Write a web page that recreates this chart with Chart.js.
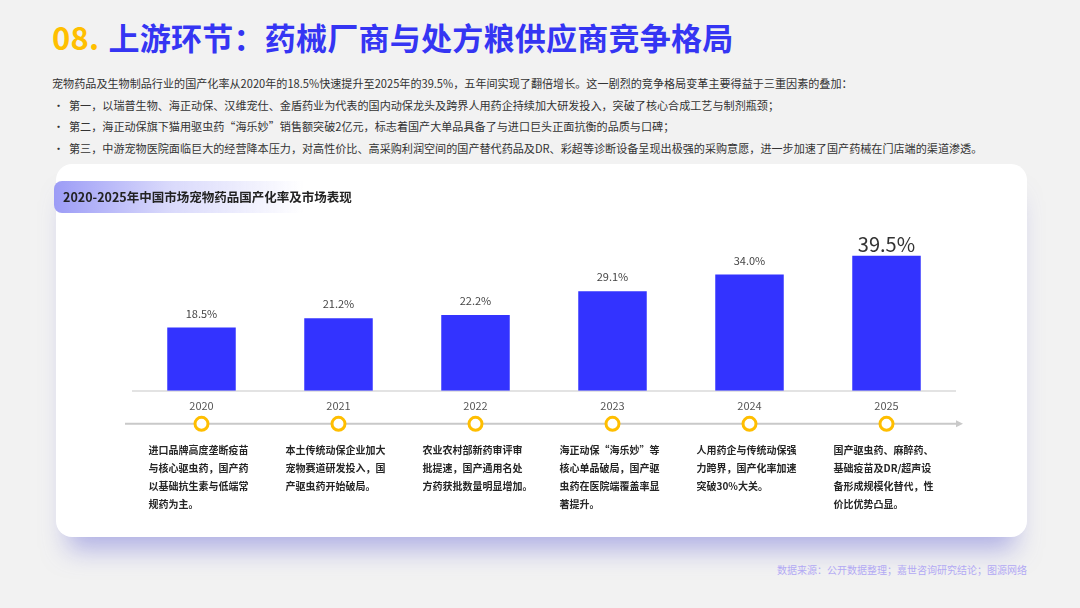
<!DOCTYPE html>
<html lang="zh-CN">
<head>
<meta charset="utf-8">
<script src="https://cdn.jsdelivr.net/npm/chart.js@4.4.1/dist/chart.umd.min.js"></script>
<style>
  html, body { margin: 0; padding: 0; }
  body {
    width: 1080px; height: 608px; position: relative; overflow: hidden;
    background: #f2f2f2;
    font-family: "Noto Sans CJK SC", "Noto Sans", sans-serif;
  }
  .title {
    position: absolute; left: 52px; top: 14px;
    font-size: 31px; font-weight: 700; color: #3535f3; white-space: nowrap;
    letter-spacing: 0.25px;
  }
  .title .num { color: #ffbf00; margin-right: 9px; }
  .intro {
    position: absolute; left: 52px; top: 73px; width: 1010px;
    font-size: 11.1px; color: #333; line-height: 21.5px;
  }
  .intro .b { position: relative; padding-left: 17px; }
  .intro .b::before { content: "•"; position: absolute; left: 1px; top: 0; }
  .card {
    position: absolute; left: 56px; top: 164px; width: 971px; height: 373px;
    background: #fff; border-radius: 16px;
    box-shadow: 0 24px 26px -12px rgba(110, 110, 215, 0.5);
  }
  .band {
    position: absolute; left: 54px; top: 181px; width: 250px; height: 32px;
    border-radius: 8px 0 0 8px;
    background: linear-gradient(90deg, #9c9cf6 0%, #d8d8fb 45%, rgba(255,255,255,0) 100%);
  }
  .band span {
    position: absolute; left: 9px; top: 0; line-height: 32px;
    font-size: 12.5px; font-weight: 700; color: #222; white-space: nowrap;
  }
  .chart-box { position: absolute; left: 56px; top: 164px; width: 971px; height: 373px; }
  .source {
    position: absolute; right: 53px; top: 562px;
    font-size: 10px; color: #b2a9f4; white-space: nowrap;
  }
</style>
</head>
<body>
<div class="title"><span class="num">08.</span>上游环节：药械厂商与处方粮供应商竞争格局</div>
<div class="intro">
  <div>宠物药品及生物制品行业的国产化率从2020年的18.5%快速提升至2025年的39.5%，五年间实现了翻倍增长。这一剧烈的竞争格局变革主要得益于三重因素的叠加：</div>
  <div class="b">第一，以瑞普生物、海正动保、汉维宠仕、金盾药业为代表的国内动保龙头及跨界人用药企持续加大研发投入，突破了核心合成工艺与制剂瓶颈；</div>
  <div class="b">第二，海正动保旗下猫用驱虫药“海乐妙”销售额突破2亿元，标志着国产大单品具备了与进口巨头正面抗衡的品质与口碑；</div>
  <div class="b">第三，中游宠物医院面临巨大的经营降本压力，对高性价比、高采购利润空间的国产替代药品及DR、彩超等诊断设备呈现出极强的采购意愿，进一步加速了国产药械在门店端的渠道渗透。</div>
</div>
<div class="card"></div>
<div class="chart-box"><canvas id="rateChart"></canvas></div>
<div class="band"><span>2020-2025年中国市场宠物药品国产化率及市场表现</span></div>
<div class="source">数据来源：公开数据整理；嘉世咨询研究结论；图源网络</div>

<script>
const years = ["2020", "2021", "2022", "2023", "2024", "2025"];
const rates = [18.5, 21.2, 22.2, 29.1, 34.0, 39.5];
const notes = [
  ["进口品牌高度垄断疫苗", "与核心驱虫药，国产药", "以基础抗生素与低端常", "规药为主。"],
  ["本土传统动保企业加大", "宠物赛道研发投入，国", "产驱虫药开始破局。"],
  ["农业农村部新药审评审", "批提速，国产通用名处", "方药获批数量明显增加。"],
  ["海正动保“海乐妙”等", "核心单品破局，国产驱", "虫药在医院端覆盖率显", "著提升。"],
  ["人用药企与传统动保强", "力跨界，国产化率加速", "突破30%大关。"],
  ["国产驱虫药、麻醉药、", "基础疫苗及DR/超声设", "备形成规模化替代，性", "价比优势凸显。"]
];

const FONT = '"Noto Sans CJK SC", "Noto Sans", sans-serif';

// value labels, timeline with circles, and notes under each year
const timelinePlugin = {
  id: "timeline",
  afterDatasetsDraw(chart) {
    const ctx = chart.ctx;
    const area = chart.chartArea;
    const bars = chart.getDatasetMeta(0).data;
    const last = bars.length - 1;

    ctx.save();
    ctx.textAlign = "center";
    ctx.textBaseline = "middle";
    bars.forEach((bar, i) => {
      const big = i === last;
      ctx.font = (big ? "20px " : "11px ") + FONT;
      ctx.fillStyle = big ? "#333" : "#444";
      ctx.fillText(rates[i].toFixed(1) + "%", bar.x, bar.y - (big ? 11 : 14));
    });

    const ty = area.bottom + 33;
    ctx.strokeStyle = "#c9c9c9";
    ctx.lineWidth = 2;
    ctx.beginPath();
    ctx.moveTo(area.left - 8, ty);
    ctx.lineTo(area.right + 3, ty);
    ctx.stroke();
    ctx.fillStyle = "#c9c9c9";
    ctx.beginPath();
    ctx.moveTo(area.right + 8, ty);
    ctx.lineTo(area.right + 1, ty - 3.5);
    ctx.lineTo(area.right + 1, ty + 3.5);
    ctx.closePath();
    ctx.fill();

    bars.forEach((bar) => {
      ctx.beginPath();
      ctx.arc(bar.x, ty, 6.5, 0, Math.PI * 2);
      ctx.fillStyle = "#fff";
      ctx.fill();
      ctx.lineWidth = 3;
      ctx.strokeStyle = "#ffbe00";
      ctx.stroke();
    });

    ctx.textAlign = "left";
    ctx.font = "bold 10px " + FONT;
    ctx.fillStyle = "#262626";
    bars.forEach((bar, i) => {
      notes[i].forEach((line, j) => {
        ctx.fillText(line, bar.x - 53, area.bottom + 59 + j * 18);
      });
    });
    ctx.restore();
  }
};

const ctx = document.getElementById("rateChart").getContext("2d");

const rateChart = new Chart(ctx, {
  type: "bar",
  data: {
    labels: years,
    datasets: [
      {
        label: "国产化率",
        data: rates,
        backgroundColor: "#3333ff",
        borderWidth: 0,
        barPercentage: 0.5,
        categoryPercentage: 1.0,
      },
    ],
  },
  options: {
    responsive: true,
    maintainAspectRatio: false,
    animation: false,
    layout: {
      padding: { left: 77, right: 72, top: 90, bottom: 117 },
    },
    scales: {
      x: {
        grid: { display: false, drawTicks: false },
        border: { display: true, color: "#e3e3e3", width: 2 },
        ticks: {
          padding: 8,
          color: "#555",
          font: { family: FONT, size: 11 },
        },
      },
      y: {
        display: false,
        min: 0,
        max: 40,
      },
    },
    plugins: {
      legend: { display: false },
      tooltip: { enabled: false },
      title: { display: false },
    },
  },
  plugins: [timelinePlugin],
});
</script>
</body>
</html>
